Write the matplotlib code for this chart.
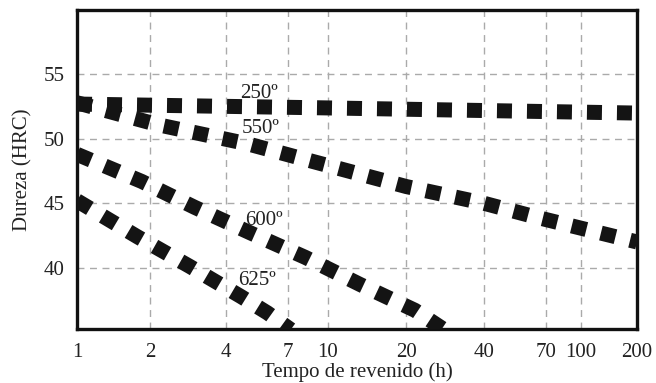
import numpy as np
import matplotlib
matplotlib.use("Agg")
import matplotlib.pyplot as plt
from matplotlib.scale import FuncScale

# tempo de revenido (h) / dureza (HRC)
t250 = [1, 10, 200]
h250 = [52.7, 52.4, 52.0]

t550 = [1, 2.15, 4.9, 8.2, 20, 40, 65, 200]
h550 = [52.8, 51.1, 49.6, 48.4, 46.3, 45.0, 43.9, 42.0]

t600 = [1, 1.85, 3.0, 5.0, 8.2, 13.3, 21.6, 28]
h600 = [48.8, 46.7, 44.7, 42.7, 40.8, 38.7, 36.7, 35.2]

t625 = [1, 1.78, 2.88, 4.6, 5.83, 7.2]
h625 = [45.2, 42.4, 40.1, 37.75, 36.5, 35.2]

xticks = [1, 2, 4, 7, 10, 20, 40, 70, 100, 200]
yticks = [40, 45, 50, 55]

# the printed axis is roughly logarithmic but squeezed towards 200 h
tick_frac = np.array([0, 0.130, 0.266, 0.376, 0.448, 0.588, 0.727, 0.837, 0.900, 1.0])
logt = np.log10(xticks)

def fwd(x):
    x = np.clip(np.asarray(x, dtype=float), 1e-3, None)
    return np.interp(np.log10(x), logt, tick_frac, left=-1, right=2)

def inv(f):
    return 10 ** np.interp(f, tick_frac, logt)

plt.rcParams['font.family'] = ['Liberation Serif', 'DejaVu Serif']

fig = plt.figure(figsize=(6.56, 3.83), dpi=100)
ax = fig.add_axes([0.1174, 0.141, 0.8537, 0.833])
ax.set_xscale(FuncScale(ax.xaxis, (fwd, inv)))

style = dict(color='#141414', lw=10.8, dashes=(1, 1), dash_capstyle='butt', zorder=3)
ax.plot(t250, h250, **style)
ax.plot(t550, h550, **style)
ax.plot(t600, h600, **style)
ax.plot(t625, h625, **style)

ax.set_xlim(1, 200)
ax.set_ylim(35.25, 60)
ax.set_xticks(xticks)
ax.set_xticklabels([str(v) for v in xticks])
ax.xaxis.set_minor_locator(matplotlib.ticker.NullLocator())
ax.set_yticks(yticks)
ax.tick_params(axis='both', length=0, labelsize=15, colors='#222222')
ax.tick_params(axis='x', pad=10)
ax.tick_params(axis='y', pad=9)

ax.grid(True, color='#aaaaaa', linestyle=(0, (5, 4)), linewidth=1.0, zorder=0)
for s in ax.spines.values():
    s.set_linewidth(2.4)
    s.set_color('#111111')

ax.text(4.55, 53.5, '250º', fontsize=15, ha='left', va='center', color='#222222', zorder=4)
ax.text(4.6, 50.8, '550º', fontsize=15, ha='left', va='center', color='#222222', zorder=4)
ax.text(4.75, 43.7, '600º', fontsize=15, ha='left', va='center', color='#222222', zorder=4)
ax.text(4.45, 39.0, '625º', fontsize=15, ha='left', va='center', color='#222222', zorder=4)

ax.set_xlabel('Tempo de revenido (h)', fontsize=15, labelpad=0, color='#222222')
ax.set_ylabel('Dureza (HRC)', fontsize=15, labelpad=8, color='#222222')

fig.savefig('out.png', dpi=100)
